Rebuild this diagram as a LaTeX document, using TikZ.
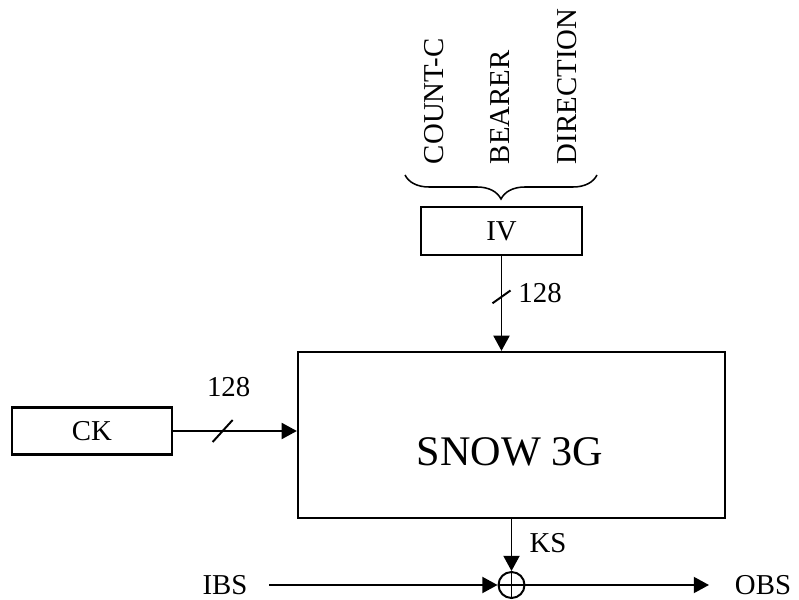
\documentclass[tikz,border=0pt]{standalone}
\usepackage{fontspec}
\setmainfont{Liberation Serif}
\usetikzlibrary{arrows.meta, decorations.pathreplacing}

\begin{document}
\begin{tikzpicture}[
  >={Triangle[length=3.8mm, width=4mm]},
  line width=1.4pt,
  every node/.style={font=\fontsize{20.5}{24}\selectfont},
  box/.style={draw, line width=1.6pt, inner sep=0pt},
  lbl/.style={inner sep=0pt},
  vlbl/.style={inner sep=0pt, rotate=90, anchor=west},
]

% Frame
\useasboundingbox (0,0) rectangle (19.975,14.975);

% Keystream generator
\node[box, minimum width=10.675cm, minimum height=4.15cm] (snow) at (12.7875,4.1) {};
\node[lbl, font=\fontsize{30}{36}\selectfont] (snowlbl) at (12.75,3.675) {SNOW 3G};

% CK box
\node[box, minimum width=4cm, minimum height=1.175cm] (ck) at (2.3,4.2) {CK};

% CK into SNOW 3G, 128 bits
\draw[->] (ck.east) -- coordinate[pos=0.4] (ckbus) (ck.east -| snow.west);
\draw ([shift={(-0.25,-0.275)}]ckbus) -- ([shift={(0.25,0.275)}]ckbus);
\node[lbl] (ckwidth) at ([shift={(0.15,1.1)}]ckbus) {128};

% IV box
\node[box, minimum width=4.025cm, minimum height=1.2cm] (iv) at (12.5375,9.2) {IV};

% IV into SNOW 3G, 128 bits
\draw[->] (iv.south) -- coordinate[pos=0.43] (ivbus) (iv.south |- snow.north);
\draw ([shift={(-0.225,-0.16)}]ivbus) -- ([shift={(0.225,0.16)}]ivbus);
\node[lbl, anchor=west] (ivwidth) at ([shift={(0.4,0.1)}]ivbus) {128};

% Brace over the IV inputs
\draw[line width=1.1pt, decorate, decoration={brace, mirror, amplitude=0.6cm}] (10.125,10.6) -- (14.925,10.6);

% Vertical labels
\node[vlbl] (count) at (10.85,10.85) {COUNT-C};
\node[vlbl] (bearer) at (12.5,10.85) {BEARER};
\node[vlbl] (dir) at (14.175,10.85) {DIRECTION};

% XOR
\node[draw, circle, minimum size=0.65cm, inner sep=0pt] (xor) at (12.7875,0.35) {};
\draw (xor.north) -- (xor.south) (xor.west) -- (xor.east);

% Keystream to XOR
\draw[->] (snow.south) -- (xor.north);
\node[lbl] (ks) at (13.7,1.4) {KS};

% Input and output bit streams
\node[lbl] (ibs) at (5.625,0.35) {IBS};
\node[lbl] (obs) at (19.075,0.35) {OBS};
\draw[->] ([xshift=0.525cm]ibs.east) -- (xor.west);
\draw[->] (xor.east) -- ([xshift=-0.625cm]obs.west);

\end{tikzpicture}
\end{document}
